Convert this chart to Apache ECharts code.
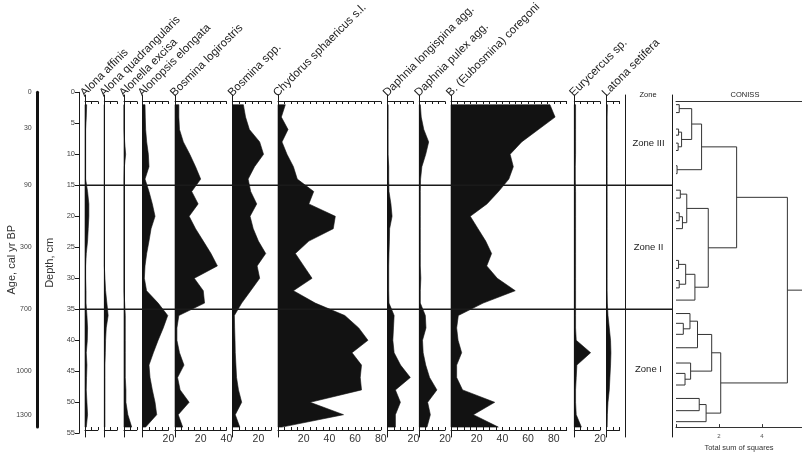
<!DOCTYPE html>
<html><head><meta charset="utf-8">
<script src="https://cdn.jsdelivr.net/npm/echarts@6/dist/echarts.min.js"></script>
<style>html,body{margin:0;padding:0;background:#fff}#c{width:802px;height:457px}</style>
</head><body><div id="c"></div>
<script>
// ---------------- DATA ----------------
const depths = [2,4,6,8,10,12,14,16,18,20,22,24,26,28,30,32,34,36,38,40,42,44,46,48,50,52,54];
const taxa = ['Alona affinis','Alona quadrangularis','Alonella excisa','Alonopsis elongata','Bosmina logirostris','Bosmina spp.','Chydorus sphaericus s.l.','Daphnia longispina agg.','Daphnia pulex agg.','B. (Eubosmina) coregoni','Eurycercus sp.','Latona setifera'];
const taxonMax = [10,10,10,20,40,30,80,20,20,90,20,10];
const alonaAffinis = [1.3,1,0.5,0.5,0.5,0.5,0.5,2,3,3,2.5,2,1,0.5,0.5,0.8,0.8,1.5,2,1.8,1,1.5,1.2,1,1.5,2,1];
const alonaQuadrangularis = [0,0,0,0,0,0,0,0,0,0,0,0,0,0,0.5,1,2,3,1.5,1,0.8,0.5,0.5,0.5,0.5,0.5,0.5];
const alonellaExcisa = [0,0,0,0.5,1.3,0.3,0,0,0,0,0,0,0,0,0,0,0.5,1,1,1,1,1,1,1.5,1.5,3,6];
const alonopsisElongata = [1.8,2,2.3,3.1,4.4,4.9,1.8,4.9,7.5,9.6,6.5,4.9,3.1,1.8,1.3,3,12,19.5,16,12,8.3,4.9,5.7,7.5,9.6,10.9,2.3];
const bosminaLongirostris = [3,3,3.5,6.5,11.5,16,20,13,18,11,16,22,28,33,15,22,23,3,1.5,1.5,3.5,7,2,4,11,2.5,6];
const bosminaSpp = [8.3,10,13,21,24,17,12,14,18.7,13.5,16,20,25.7,19,21,14,7,1.3,1.5,1.8,2,2.5,3,4.5,7,2,5.5];
const chydorus = [5.7,2.6,7.8,3.1,7,12,15,27.8,24,44.6,43,24,13.5,20,26.5,12,29,52,62.8,70,57.6,65,64,65,25,51,3];
const daphniaLongispina = [0.3,0.3,0.3,0.3,0.3,0.8,0.8,1,2.5,3.4,1.5,1.3,1,0.8,0.8,0.8,1,5,4.5,4,5,10,17.6,6,9.9,6,6];
const daphniaPulex = [0.8,1.5,3.5,7.3,5,2,1,0.8,0.8,0.8,0.8,0.8,0.8,0.8,1.2,0.8,0.8,4.7,5.2,2.5,3,5,8,13.7,6.5,8.6,6];
const eubosminaCoregoni = [77,81,68,55,46,48.5,45,37,28,15,21,27,31.6,27.8,36,50,25,5.7,4.4,5.5,8.3,4.4,4.4,9,34,17.4,36.8];
const eurycercus = [1,1,1,1,1,0.8,0.8,1,1,1,1,1,1,1,1,1,1,1,1,1.5,12.7,2,1.5,1,1,1.5,5.5];
const latonaSetifera = [0.5,0.3,0.3,0.3,0.3,0.3,0.3,0.3,0.3,0.3,0.3,0.3,0.3,0.3,0.3,0.3,0.5,1,2,3,3.3,3,2.5,2,1,0.5,0.3];
const taxonValues = [alonaAffinis,alonaQuadrangularis,alonellaExcisa,alonopsisElongata,bosminaLongirostris,bosminaSpp,chydorus,daphniaLongispina,daphniaPulex,eubosminaCoregoni,eurycercus,latonaSetifera];

const depthTicks = [0,5,10,15,20,25,30,35,40,45,50,55];
const ageLabels = ['0','30','90','300','700','1000','1300'];
const ageDepths = [0,5.8,15,25,35,45,52];

const zoneEdges = [1.5,15,35,54.5];
const zoneNames = ['Zone III','Zone II','Zone I'];

// CONISS dendrogram
const leafDepths = [2,3.3,6,7,8.3,9.5,12,13.3,16,17.3,19.7,21,22.3,27.5,28.8,30.8,32,34,36.2,37.8,39.6,41.8,44.3,46,47.9,50.1,52.1,53.9];
const mergeA = ['L0','L2','L4','M1','M0','L6','M4','L8','L10','M8','M7','L13','L15','M11','M13','M10','M6','L19','L18','M18','L23','L22','M19','L25','M23','M22','M16'];
const mergeB = ['L1','L3','L5','M2','M3','L7','M5','L9','L11','L12','M9','L14','L16','M12','L17','M14','M15','L20','M17','L21','L24','M20','M21','L26','L27','M24','M25'];
const mergeHeight = [0.15,0.12,0.1,0.26,0.73,0.05,1.19,0.2,0.15,0.3,0.5,0.12,0.15,0.45,0.88,1.5,2.82,0.34,0.65,1.0,0.42,0.68,1.66,1.08,1.4,2.08,5.18];
const conissTicks = [0,2,4];

// ---------------- LAYOUT ----------------
const FONT = 'Liberation Sans, Arial, sans-serif';
const panelLeft = [85,104.3,124,142.7,175,232.7,278,387.7,419.3,451,574.3,606.7];
const PX = 1.285;
const Y0 = 92.3, PPC = 6.2;
const dAt = py => (py - Y0) / PPC;
const panelTop = 95, panelBot = 437, axTop = 101.5, axBot = 430;

const grids = [], xAxes = [], yAxes = [], series = [], graphics = [];
function addGrid(g){ grids.push(g); return grids.length - 1; }

taxa.forEach((name, i) => {
  const gi = addGrid({left: panelLeft[i], width: taxonMax[i]*PX, top: panelTop, height: panelBot - panelTop});
  const xi = xAxes.length;
  xAxes.push({gridIndex: gi, type:'value', min:0, max:taxonMax[i], interval:5, position:'bottom', offset: -(panelBot-axBot),
    axisLine:{onZero:false, lineStyle:{color:'#1a1a1a', width:1}},
    axisTick:{inside:true, length:3, lineStyle:{color:'#1a1a1a'}},
    splitLine:{show:false},
    axisLabel:{show:true, showMaxLabel:true, showMinLabel:false, margin:4, fontSize:10.5, color:'#333', fontFamily:FONT,
      formatter: v => (v > 0 && v % 20 === 0) ? String(v) : ''}});
  xAxes.push({gridIndex: gi, type:'value', min:0, max:taxonMax[i], interval:5, position:'top', offset: -(axTop-panelTop),
    axisLine:{onZero:false, lineStyle:{color:'#1a1a1a', width:1}},
    axisTick:{inside:true, length:2.5, lineStyle:{color:'#1a1a1a'}},
    splitLine:{show:false}, axisLabel:{show:false}});
  const yi = yAxes.length;
  yAxes.push({gridIndex: gi, type:'value', inverse:true, min:dAt(panelTop), max:dAt(panelBot),
    axisLine:{show:true, onZero:false, lineStyle:{color:'#1a1a1a', width:1}},
    axisTick:{show:false}, axisLabel:{show:false}, splitLine:{show:false}});
  const vals = taxonValues[i];
  series.push({type:'custom', xAxisIndex: xi, yAxisIndex: yi, silent:true,
    data: depths.map((d,k) => [vals[k], d]),
    renderItem: function(params, api){
      if (params.dataIndex !== 0) return null;
      const pts = [api.coord([0, depths[0]])];
      for (let k = 0; k < depths.length; k++) pts.push(api.coord([vals[k], depths[k]]));
      pts.push(api.coord([0, depths[depths.length-1]]));
      return {type:'polygon', shape:{points: pts}, style:{fill:'#121212', stroke:'#121212', lineWidth:0.6}};
    }});
  graphics.push({type:'text', x: panelLeft[i] + 1.5, y: 99, rotation: Math.PI/4,
    style:{text: name, font: '11.5px ' + FONT, fill:'#222', textAlign:'left', textVerticalAlign:'bottom'}});
});

// Age axis
{
  const gi = addGrid({left: 37.7, width: 10, top: Y0, height: 54*PPC});
  const xi = xAxes.length;
  xAxes.push({gridIndex: gi, type:'value', min:0, max:1, show:false});
  const yi = yAxes.length;
  yAxes.push({gridIndex: gi, type:'value', inverse:true, min:0, max:54, position:'left',
    axisLine:{show:true, onZero:false, lineStyle:{color:'#111', width:3}},
    axisTick:{show:false}, axisLabel:{show:false}, splitLine:{show:false},
    name:'Age, cal yr BP', nameLocation:'middle', nameGap:20,
    nameTextStyle:{fontSize:11, color:'#333', fontFamily:FONT}});
  series.push({type:'custom', xAxisIndex: xi, yAxisIndex: yi, silent:true,
    data: ageDepths.map((d,k) => [0, d, k]),
    renderItem: function(params, api){
      const p = api.coord([api.value(0), api.value(1)]);
      return {type:'text', x: p[0] - 6, y: p[1],
        style:{text: ageLabels[api.value(2)], font:'7px ' + FONT, fill:'#444', textAlign:'right', textVerticalAlign:'middle'}};
    }});
}

// Depth axis + zone boundary lines
{
  const gi = addGrid({left: 79, width: 672-79, top: Y0, height: 55*PPC});
  const xi = xAxes.length;
  xAxes.push({gridIndex: gi, type:'value', min:0, max:1, show:false});
  const yi = yAxes.length;
  yAxes.push({gridIndex: gi, type:'value', inverse:true, min:depthTicks[0], max:depthTicks[depthTicks.length-1], interval:5, position:'left',
    axisLine:{show:true, onZero:false, lineStyle:{color:'#1a1a1a', width:1}},
    axisTick:{show:true, length:4, lineStyle:{color:'#1a1a1a'}},
    axisLabel:{fontSize:7.5, color:'#444', margin:4, fontFamily:FONT}, splitLine:{show:false},
    name:'Depth, cm', nameLocation:'middle', nameGap:23,
    nameTextStyle:{fontSize:11, color:'#333', fontFamily:FONT}});
  series.push({type:'custom', xAxisIndex: xi, yAxisIndex: yi, silent:true,
    data: zoneEdges.slice(1, -1).map(b => [0, b]),
    renderItem: function(params, api){
      const a = api.coord([0, api.value(1)]), b = api.coord([1, api.value(1)]);
      return {type:'line', shape:{x1:a[0], y1:a[1], x2:b[0], y2:b[1]}, style:{stroke:'#1a1a1a', lineWidth:1.4}};
    }});
}

// Zone column
{
  const gi = addGrid({left: 625, width: 47, top: panelTop, height: panelBot - panelTop});
  const xi = xAxes.length;
  xAxes.push({gridIndex: gi, type:'value', min:0, max:1, show:false});
  const yi = yAxes.length;
  const yBase = {gridIndex: gi, type:'value', inverse:true, min:dAt(panelTop), max:dAt(panelBot),
    axisTick:{show:false}, axisLabel:{show:false}, splitLine:{show:false}};
  yAxes.push(Object.assign({}, yBase, {position:'left', axisLine:{show:true, onZero:false, lineStyle:{color:'#1a1a1a', width:1}}}));
  yAxes.push(Object.assign({}, yBase, {position:'right', axisLine:{show:true, onZero:false, lineStyle:{color:'#1a1a1a', width:1}}}));
  series.push({type:'custom', xAxisIndex: xi, yAxisIndex: yi, silent:true,
    data: zoneNames.map((n,k) => [0.5, (zoneEdges[k] + zoneEdges[k+1]) / 2, k]),
    renderItem: function(params, api){
      const p = api.coord([api.value(0), api.value(1)]);
      return {type:'text', x: p[0], y: p[1],
        style:{text: zoneNames[api.value(2)], font:'9.5px ' + FONT, fill:'#222', textAlign:'center', textVerticalAlign:'middle'}};
    }});
  graphics.push({type:'text', x: 648, y: 94.5, style:{text:'Zone', font:'7.5px ' + FONT, fill:'#222', textAlign:'center', textVerticalAlign:'middle'}});
}

// CONISS
{
  const xmax = 5.86;
  const gi = addGrid({left: 676, right: 0, top: 101, height: 331});
  const xi = xAxes.length;
  xAxes.push({gridIndex: gi, type:'value', min:conissTicks[0], max:xmax, interval:2, position:'bottom',
    axisLine:{onZero:false, lineStyle:{color:'#333', width:1}},
    axisTick:{inside:true, length:3, lineStyle:{color:'#333'}},
    axisLabel:{showMaxLabel:false, fontSize:6, color:'#555', margin:6, fontFamily:FONT,
      formatter: v => (conissTicks.indexOf(v) > 0) ? String(v) : ''},
    splitLine:{show:false},
    name:'Total sum of squares', nameLocation:'middle', nameGap:14,
    nameTextStyle:{fontSize:7.5, color:'#333', fontFamily:FONT}});
  xAxes.push({gridIndex: gi, type:'value', min:0, max:xmax, position:'top',
    axisLine:{onZero:false, lineStyle:{color:'#333', width:1}},
    axisTick:{show:false}, axisLabel:{show:false}, splitLine:{show:false}});
  const yi = yAxes.length;
  yAxes.push({gridIndex: gi, type:'value', inverse:true, min:dAt(101), max:dAt(432), show:false});

  // build dendrogram geometry from the merge table
  const nodes = {};
  leafDepths.forEach((d,k) => { nodes['L'+k] = {x:0, y:d}; });
  const segs = [];
  mergeA.forEach((a,k) => {
    const A = nodes[a], B = nodes[mergeB[k]], h = mergeHeight[k];
    nodes['M'+k] = {x:h, y:(A.y + B.y)/2};
    segs.push([A.x, A.y, h, B.y, B.x]);
  });
  const root = nodes['M'+(mergeA.length-1)];
  series.push({type:'custom', xAxisIndex: xi, yAxisIndex: yi, silent:true,
    data: segs,
    renderItem: function(params, api){
      const ax = api.value(0), ay = api.value(1), mx = api.value(2), by = api.value(3), bx = api.value(4);
      const pts = [api.coord([ax, ay]), api.coord([mx, ay]), api.coord([mx, by]), api.coord([bx, by])];
      return {type:'polyline', shape:{points: pts}, style:{stroke:'#333', lineWidth:1, fill:null}};
    }});
  series.push({type:'custom', xAxisIndex: xi, yAxisIndex: yi, silent:true,
    data: [[root.x, root.y, xmax]],
    renderItem: function(params, api){
      const a = api.coord([api.value(0), api.value(1)]), b = api.coord([api.value(2), api.value(1)]);
      return {type:'line', shape:{x1:a[0], y1:a[1], x2:b[0], y2:b[1]}, style:{stroke:'#333', lineWidth:1}};
    }});
  graphics.push({type:'text', x: 745, y: 94.5, style:{text:'CONISS', font:'7.5px ' + FONT, fill:'#222', textAlign:'center', textVerticalAlign:'middle'}});
}

const chart = echarts.init(document.getElementById('c'), null, {renderer:'canvas'});
chart.setOption({
  backgroundColor:'#ffffff',
  animation:false,
  grid: grids, xAxis: xAxes, yAxis: yAxes, series: series,
  graphic: {elements: graphics}
});
</script></body></html>
